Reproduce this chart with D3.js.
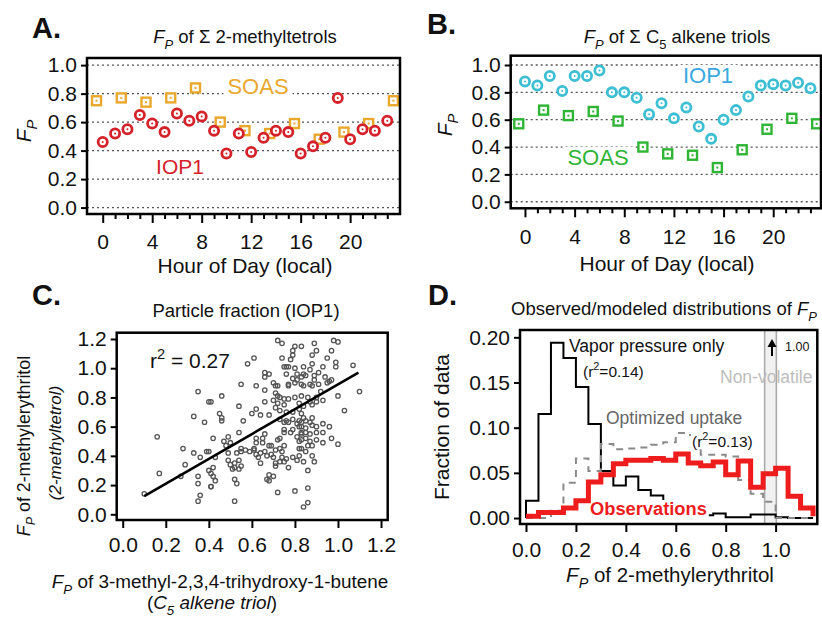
<!DOCTYPE html>
<html>
<head>
<meta charset="utf-8">
<script src="https://cdn.jsdelivr.net/npm/d3@7"></script>
<style>
    body { margin: 0; background: #fff; }
    svg { display: block; font-family: "Liberation Sans", Arial, Helvetica, sans-serif; }
    .grid line { stroke: #555; stroke-width: 1.3; stroke-dasharray: 2,3; }
    .axis line { stroke: #000; stroke-width: 2; }
    .axis text { fill: #111; font-size: 21px; }
</style>
</head>
<body>
<svg id="fig" width="822" height="617"></svg>
<script>
// ---------- data ----------
// A / B: hour of day (local) for each campaign
const iop1Hours = [0, 1, 2, 3, 4, 5, 6, 7, 8, 9, 10, 11, 12, 13, 14, 15, 16, 17, 18, 19, 20, 21, 22, 23];
const soasHours = [-0.5, 1.5, 3.5, 5.5, 7.5, 9.5, 11.5, 13.5, 15.5, 17.5, 19.5, 21.5, 23.5];

// A: Fp of sum 2-methyltetrols
const tetrolIOP1 = [0.46, 0.52, 0.55, 0.65, 0.59, 0.53, 0.66, 0.61, 0.64, 0.54, 0.38, 0.52,
                    0.39, 0.49, 0.54, 0.53, 0.38, 0.43, 0.49, 0.77, 0.48, 0.55, 0.54, 0.61];
const tetrolSOAS = [0.75, 0.77, 0.74, 0.77, 0.84, 0.60, 0.54, 0.52, 0.59, 0.48, 0.53, 0.59, 0.75];

// B: Fp of sum C5 alkene triols
const triolIOP1 = [0.88, 0.85, 0.92, 0.81, 0.92, 0.92, 0.96, 0.80, 0.80, 0.76, 0.64, 0.72,
                   0.61, 0.69, 0.55, 0.46, 0.60, 0.67, 0.77, 0.85, 0.86, 0.85, 0.87, 0.83];
const triolSOAS = [0.57, 0.67, 0.63, 0.66, 0.59, 0.40, 0.35, 0.34, 0.25, 0.38, 0.53, 0.61, 0.57];

const hourTicks = [0, 4, 8, 12, 16, 20];
const fpTicks = [0, 0.2, 0.4, 0.6, 0.8, 1.0];

// C: [Fp alkene triol, Fp 2-methylerythritol] pairs (IOP1)
const scatterIOP1 = [
    [0.10,0.14],[0.16,0.53],[0.17,0.28],[0.27,0.26],[0.28,0.45],[0.29,0.34],[0.33,0.67],[0.33,0.42],
    [0.35,0.84],[0.35,0.26],[0.35,0.21],[0.35,0.09],[0.36,0.13],[0.36,0.39],[0.38,0.63],[0.39,0.43],
    [0.40,0.77],[0.40,0.30],[0.41,0.19],
    [0.72,1.19],[0.74,1.17],[0.80,1.15],[0.79,1.12],[0.79,1.09],[0.74,1.07],[0.61,1.07],[0.58,1.03],
    [0.78,1.06],[0.75,1.01],[0.76,1.01],[0.77,1.01],[0.80,1.00],[0.66,0.97],[0.68,0.96],[0.66,0.94],
    [0.76,0.96],[0.81,0.96],[0.79,0.93],[0.81,0.92],[0.55,0.89],[0.62,0.88],[0.70,0.90],[0.71,0.88],
    [0.72,0.88],[0.77,0.89],[0.77,0.88],[0.80,0.90],[0.66,0.85],[0.46,0.81],[0.71,0.83],[0.72,0.81],
    [0.73,0.80],[0.70,0.78],[0.72,0.76],[0.75,0.79],[0.77,0.79],[0.80,0.80],[0.41,0.77],[0.54,0.74],
    [0.66,0.77],[0.75,0.75],[0.62,0.72],[0.60,0.69],[0.45,0.69],[0.46,0.66],[0.46,0.64],[0.64,0.68],
    [0.68,0.68],[0.71,0.73],[0.73,0.71],[0.76,0.70],[0.79,0.70],[0.82,0.72],[0.56,0.64],[0.79,0.65],
    [0.81,0.62],[0.82,0.64],[0.83,0.60],[0.73,0.65],[0.75,0.63],[0.76,0.64],[0.77,0.63],[0.75,0.58],
    [0.78,0.56],[0.79,0.58],[0.42,0.52],[0.47,0.50],[0.49,0.53],[0.50,0.49],[0.54,0.56],[0.62,0.52],
    [0.65,0.52],[0.66,0.55],[0.65,0.49],[0.62,0.49],[0.61,0.45],[0.68,0.47],[0.69,0.47],[0.72,0.51],
    [0.73,0.52],[0.73,0.45],[0.74,0.43],[0.75,0.47],[0.71,0.44],[0.75,0.56],[0.81,0.53],[0.82,0.50],
    [0.83,0.55],[0.40,0.43],[0.43,0.39],[0.42,0.32],[0.41,0.28],[0.42,0.26],[0.43,0.23],[0.41,0.19],
    [0.48,0.47],[0.49,0.42],[0.49,0.37],[0.50,0.34],[0.52,0.35],[0.51,0.31],[0.52,0.32],[0.54,0.37],
    [0.53,0.42],[0.55,0.43],[0.55,0.45],[0.57,0.44],[0.59,0.43],[0.61,0.44],[0.62,0.41],[0.63,0.39],
    [0.64,0.42],[0.66,0.43],[0.67,0.40],[0.69,0.41],[0.70,0.39],[0.71,0.35],[0.71,0.33],[0.73,0.36],
    [0.74,0.39],[0.75,0.36],[0.76,0.38],[0.77,0.32],[0.79,0.39],[0.81,0.37],[0.52,0.24],[0.53,0.21],
    [0.55,0.33],[0.54,0.31],[0.64,0.35],[0.68,0.27],[0.67,0.24],[0.70,0.26],[0.68,0.23],[0.72,0.15],
    [0.80,0.16],[0.52,0.09],
    [0.98,1.19],[1.00,1.18],[0.83,1.15],[0.89,1.17],[0.97,1.12],[0.88,1.09],[0.90,1.12],[0.95,1.07],
    [0.99,1.04],[0.99,1.01],[1.07,1.02],[0.84,1.01],[0.88,1.03],[0.87,0.99],[0.93,1.01],[0.91,0.97],
    [0.89,0.95],[0.94,0.94],[0.96,0.91],[0.95,0.90],[0.97,0.92],[0.83,0.94],[0.84,0.96],[0.85,0.95],
    [0.87,0.89],[0.89,0.92],[0.91,0.89],[0.83,0.89],[0.84,0.88],[0.88,0.88],[1.10,0.84],[1.00,0.81],
    [0.92,0.84],[0.90,0.80],[0.86,0.80],[0.83,0.81],[0.87,0.77],[0.90,0.77],[0.93,0.78],[0.88,0.75],
    [0.84,0.74],[0.82,0.76],[1.03,0.71],[0.83,0.69],[0.84,0.66],[0.85,0.64],[0.88,0.66],[0.87,0.63],
    [0.88,0.61],[0.83,0.63],[0.82,0.60],[0.85,0.59],[0.85,0.56],[0.83,0.56],[0.87,0.55],[0.90,0.60],
    [0.93,0.62],[0.96,0.60],[0.93,0.56],[0.90,0.56],[0.90,0.51],[0.87,0.50],[0.85,0.52],[0.83,0.51],
    [0.93,0.49],[0.97,0.52],[1.00,0.48],[0.82,0.45],[0.83,0.45],[0.86,0.47],[0.85,0.43],[0.88,0.47],
    [0.82,0.40],[0.84,0.36],[0.88,0.40],[0.89,0.36],[0.86,0.30],[0.86,0.18],[0.86,0.08],[0.84,0.05]
];
// least-squares fit line as drawn (x range and end values)
const fitX = [0.10, 1.095];
const fitY = [0.125, 0.97];
const cTicks = [0, 0.2, 0.4, 0.6, 0.8, 1.0, 1.2];

// D: histogram of Fp (bin width 0.05)
const binStarts = [0, 0.05, 0.1, 0.15, 0.2, 0.25, 0.3, 0.35, 0.4, 0.45, 0.5, 0.55,
                   0.6, 0.65, 0.7, 0.75, 0.8, 0.85, 0.9, 0.95, 1.0, 1.05, 1.1];
const binWidth = 0.05;
const vaporOnly = [0.019, 0.115, 0.194, 0.177, 0.145, 0.104, 0.052, 0.036, 0.046, 0.031, 0.025, 0.003,
                   0.003, 0.003, 0.003, 0.005, 0.001, 0.001, 0.004, 0.004, 0.001, 0.0, 0.0];
const optimizedUptake = [0.0, 0.0, 0.008, 0.039, 0.066, 0.052, 0.082, 0.076, 0.077, 0.078, 0.081, 0.084,
                         0.094, 0.092, 0.070, 0.070, 0.068, 0.042, 0.027, 0.018, 0.0, 0.0, 0.0];
const observations = [0.002, 0.006, 0.006, 0.011, 0.019, 0.040, 0.048, 0.060, 0.064, 0.064, 0.066, 0.064,
                      0.071, 0.061, 0.058, 0.062, 0.048, 0.063, 0.034, 0.049, 0.055, 0.024, 0.011];
const nonVolatileBand = [0.956, 1.003];
const dXTicks = [0, 0.2, 0.4, 0.6, 0.8, 1.0];
const dYTicks = [0, 0.05, 0.10, 0.15, 0.20];

// ---------- colours ----------
const COLORS = {
    iop1Red: '#d5212a',
    soasOrange: '#e9a82c',
    iop1Cyan: '#3cbfd3',
    iop1Blue: '#39a9df',
    soasGreen: '#2fb535',
    scatter: '#555',
    optimized: '#8a8a8a',
    obs: '#ee1c1c',
    nonVol: '#bdbdbd'
};

const svg = d3.select('#fig');

/**
 * Text made of parts: plain strings or {t, i, sub, sup}
 */
function rich(parent, x, y, parts, o = {}) {
    const size = o.size || 18;
    const t = parent.append('text')
        .attr('x', x)
        .attr('y', y)
        .attr('font-size', size)
        .attr('text-anchor', o.anchor || 'start')
        .attr('fill', o.fill || '#111');
    if (o.weight) t.attr('font-weight', o.weight);
    if (o.italic) t.attr('font-style', 'italic');
    if (o.rotate) t.attr('transform', `rotate(-90,${x},${y})`);
    let shift = 0;
    parts.forEach(p => {
        if (typeof p === 'string') p = { t: p };
        const target = p.sub ? size * 0.3 : p.sup ? -size * 0.45 : 0;
        const ts = t.append('tspan').text(p.t);
        if (target - shift !== 0) ts.attr('dy', target - shift);
        shift = target;
        if (p.i) ts.attr('font-style', 'italic');
        if (p.sub || p.sup) ts.attr('font-size', size * 0.7);
    });
    return t;
}

/**
 * Put a white box behind a text node (hides grid / lines under labels)
 */
function whiteBg(textSel, pad = 3) {
    const b = textSel.node().getBBox();
    d3.select(textSel.node().parentNode).insert('rect', () => textSel.node())
        .attr('x', b.x - pad).attr('y', b.y + 2)
        .attr('width', b.width + pad * 2).attr('height', b.height - 3)
        .attr('fill', '#fff');
    return textSel;
}

function frame(g, x, y) {
    g.append('rect')
        .attr('x', x.range()[0]).attr('y', y.range()[1])
        .attr('width', x.range()[1] - x.range()[0])
        .attr('height', y.range()[0] - y.range()[1])
        .attr('fill', 'none')
        .attr('stroke', '#000')
        .attr('stroke-width', 2.5);
}

function yAxis(g, x, y, ticks, fmt) {
    const a = g.append('g')
        .attr('class', 'axis')
        .attr('transform', `translate(${x.range()[0]},0)`)
        .call(d3.axisLeft(y).tickValues(ticks).tickSize(6).tickPadding(4).tickFormat(fmt));
    a.select('.domain').remove();
    a.attr('font-size', null).attr('font-family', null);
    return a;
}

function xAxis(g, x, y, ticks, fmt, labelY) {
    const a = g.append('g')
        .attr('class', 'axis')
        .attr('transform', `translate(0,${y.range()[0]})`)
        .call(d3.axisBottom(x).tickValues(ticks).tickSize(8).tickFormat(fmt));
    a.select('.domain').remove();
    a.attr('font-size', null).attr('font-family', null);
    a.selectAll('.tick text').attr('dy', null).attr('y', labelY);
    return a;
}

function grid(g, x, y, ticks) {
    g.append('g')
        .attr('class', 'grid')
        .selectAll('line')
        .data(ticks)
        .join('line')
        .attr('x1', x.range()[0]).attr('x2', x.range()[1])
        .attr('y1', d => y(d)).attr('y2', d => y(d));
}

// ring markers (IOP1) and square markers (SOAS)
function rings(g, x, y, hrs, vals, color) {
    const pts = hrs.map((h, i) => [h, vals[i]]);
    g.append('g').selectAll('circle.ring')
        .data(pts)
        .join('circle')
        .attr('cx', d => x(d[0])).attr('cy', d => y(d[1]))
        .attr('r', 4.6)
        .attr('fill', '#fff')
        .attr('stroke', color)
        .attr('stroke-width', 2.8);
    g.append('g').selectAll('circle.dot')
        .data(pts)
        .join('circle')
        .attr('cx', d => x(d[0])).attr('cy', d => y(d[1]))
        .attr('r', 1)
        .attr('fill', color);
}

function squares(g, x, y, hrs, vals, color) {
    const pts = hrs.map((h, i) => [h, vals[i]]);
    g.append('g').selectAll('rect.sq')
        .data(pts)
        .join('rect')
        .attr('x', d => x(d[0]) - 4.5).attr('y', d => y(d[1]) - 4.5)
        .attr('width', 9).attr('height', 9)
        .attr('fill', '#fff')
        .attr('stroke', color)
        .attr('stroke-width', 2.4);
    g.append('g').selectAll('rect.dot')
        .data(pts)
        .join('rect')
        .attr('x', d => x(d[0]) - 1).attr('y', d => y(d[1]) - 1)
        .attr('width', 2).attr('height', 2)
        .attr('fill', color);
}

function hourAxis(g, x, y, labelY) {
    const a = xAxis(g, x, y, iop1Hours, d => hourTicks.includes(d) ? d : '', labelY);
    a.selectAll('.tick line')
        .attr('y2', d => hourTicks.includes(d) ? 9 : 5)
        .attr('stroke-width', d => hourTicks.includes(d) ? 2.2 : 1.6);
}

const FP = [{ t: 'F', i: 1 }, { t: 'P', i: 1, sub: 1 }];

// ---------- Panel A ----------
{
    const g = svg.append('g');
    const x = d3.scaleLinear().domain([-1.27, 24.03]).range([87, 400]);
    const y = d3.scaleLinear().domain([-0.045, 1.05]).range([214, 58]);

    grid(g, x, y, fpTicks);
    whiteBg(rich(g, 258, 94, ['SOAS'], { size: 22, anchor: 'middle', fill: COLORS.soasOrange }), 4);
    rich(g, 180, 174, ['IOP1'], { size: 21, anchor: 'middle', fill: COLORS.iop1Red });
    squares(g, x, y, soasHours, tetrolSOAS, COLORS.soasOrange);
    rings(g, x, y, iop1Hours, tetrolIOP1, COLORS.iop1Red);
    frame(g, x, y);
    yAxis(g, x, y, fpTicks, d3.format('.1f'));
    hourAxis(g, x, y, 35);

    rich(g, 32, 38, ['A.'], { size: 29, weight: 'bold' });
    rich(g, 245, 43, [...FP, ' of \u03A3 2-methyltetrols'], { size: 18.5, anchor: 'middle' });
    rich(g, 31, 131, FP, { size: 21, anchor: 'middle', rotate: true });
    rich(g, 245, 273, ['Hour of Day (local)'], { size: 21, anchor: 'middle' });
}

// ---------- Panel B ----------
{
    const g = svg.append('g');
    const x = d3.scaleLinear().domain([-1.15, 23.85]).range([510.7, 821]);
    const y = d3.scaleLinear().domain([-0.048, 1.068]).range([208.3, 55.7]);

    grid(g, x, y, fpTicks);
    whiteBg(rich(g, 708, 83, ['IOP1'], { size: 22, anchor: 'middle', fill: COLORS.iop1Blue }), 5);
    whiteBg(rich(g, 598, 165, ['SOAS'], { size: 22, anchor: 'middle', fill: COLORS.soasGreen }), 5);
    rings(g, x, y, iop1Hours, triolIOP1, COLORS.iop1Cyan);
    squares(g, x, y, soasHours, triolSOAS, COLORS.soasGreen);
    frame(g, x, y);
    yAxis(g, x, y, fpTicks, d3.format('.1f'));
    hourAxis(g, x, y, 36);

    rich(g, 427, 34, ['B.'], { size: 29, weight: 'bold' });
    rich(g, 677, 43, [...FP, ' of \u03A3 C', { t: '5', sub: 1 }, ' alkene triols'], { size: 18.5, anchor: 'middle' });
    rich(g, 452, 125, FP, { size: 21, anchor: 'middle', rotate: true });
    rich(g, 667, 271, ['Hour of Day (local)'], { size: 21, anchor: 'middle' });
}

// ---------- Panel C ----------
{
    const g = svg.append('g');
    const x = d3.scaleLinear().domain([-0.028, 1.231]).range([116.7, 387.7]);
    const y = d3.scaleLinear().domain([-0.039, 1.243]).range([520, 332.7]);

    g.append('g').selectAll('circle')
        .data(scatterIOP1)
        .join('circle')
        .attr('cx', d => x(d[0])).attr('cy', d => y(d[1]))
        .attr('r', 2.2)
        .attr('fill', 'none')
        .attr('stroke', COLORS.scatter)
        .attr('stroke-width', 1.3);

    g.append('line')
        .attr('x1', x(fitX[0])).attr('y1', y(fitY[0]))
        .attr('x2', x(fitX[1])).attr('y2', y(fitY[1]))
        .attr('stroke', '#000')
        .attr('stroke-width', 2.6);

    frame(g, x, y);
    yAxis(g, x, y, cTicks, d3.format('.1f'));
    xAxis(g, x, y, cTicks, d3.format('.1f'), 32);

    rich(g, 150, 368, ['r', { t: '2', sup: 1 }, ' = 0.27'], { size: 21 });
    rich(g, 32, 305, ['C.'], { size: 29, weight: 'bold' });
    rich(g, 246, 317, ['Particle fraction (IOP1)'], { size: 18.5, anchor: 'middle' });
    rich(g, 30, 446, [...FP, ' of 2-methylerythritol'], { size: 17.8, anchor: 'middle', rotate: true });
    rich(g, 61, 443, ['(2-methyltetrol)'], { size: 17, anchor: 'middle', rotate: true, italic: true });
    rich(g, 220, 588, [...FP, ' of 3-methyl-2,3,4-trihydroxy-1-butene'], { size: 18.9, anchor: 'middle' });
    rich(g, 212, 609, ['(', { t: 'C', i: 1 }, { t: '5', i: 1, sub: 1 }, { t: ' alkene triol', i: 1 }, ')'],
        { size: 18.9, anchor: 'middle' });
}

// ---------- Panel D ----------
{
    const g = svg.append('g');
    const x = d3.scaleLinear().domain([-0.024, 1.167]).range([520, 817.3]);
    const y = d3.scaleLinear().domain([-0.0066, 0.2081]).range([524, 330]);
    const lastEdge = binStarts[binStarts.length - 1] + binWidth;

    // non-volatile reference band at Fp = 1
    g.append('rect')
        .attr('x', x(nonVolatileBand[0])).attr('y', y.range()[1])
        .attr('width', x(nonVolatileBand[1]) - x(nonVolatileBand[0]))
        .attr('height', y.range()[0] - y.range()[1])
        .attr('fill', '#f1f1f1');
    g.selectAll('line.nv')
        .data(nonVolatileBand)
        .join('line')
        .attr('x1', d => x(d)).attr('x2', d => x(d))
        .attr('y1', y.range()[1]).attr('y2', y.range()[0])
        .attr('stroke', '#aaa')
        .attr('stroke-width', 1.6);

    const step = d3.line()
        .x(d => x(d[0]))
        .y(d => y(d[1]))
        .curve(d3.curveStepAfter);
    const series = vals => {
        const pts = binStarts.map((b, i) => [b, vals[i]]);
        pts.push([lastEdge, vals[vals.length - 1]]);
        return pts;
    };

    g.append('path')
        .attr('d', step([[0, 0], ...series(vaporOnly)]))
        .attr('fill', 'none')
        .attr('stroke', '#000')
        .attr('stroke-width', 2);
    g.append('path')
        .attr('d', step(series(optimizedUptake)))
        .attr('fill', 'none')
        .attr('stroke', COLORS.optimized)
        .attr('stroke-width', 2)
        .attr('stroke-dasharray', '7,6');

    whiteBg(rich(g, 590, 515, ['Observations'], { size: 18.3, weight: 'bold', fill: COLORS.obs }), 2);
    whiteBg(rich(g, 692, 447, ['(r', { t: '2', sup: 1 }, '=0.13)'], { size: 15.5 }), 1);

    g.append('path')
        .attr('d', step([...series(observations), [lastEdge, 0.002]]))
        .attr('fill', 'none')
        .attr('stroke', COLORS.obs)
        .attr('stroke-width', 5)
        .attr('stroke-linejoin', 'miter');

    frame(g, x, y);
    yAxis(g, x, y, dYTicks, d3.format('.2f'));
    xAxis(g, x, y, dXTicks, d3.format('.1f'), 33);

    rich(g, 569, 352, ['Vapor pressure only'], { size: 17.5 });
    rich(g, 583, 377, ['(r', { t: '2', sup: 1 }, '=0.14)'], { size: 15.5 });
    rich(g, 606, 424, ['Optimized uptake'], { size: 17.5, fill: '#666' });
    rich(g, 720, 383, ['Non-volatile'], { size: 17.5, fill: COLORS.nonVol });

    // upward arrow: the band's peak (1.00) is off the scale
    g.append('line')
        .attr('x1', 772).attr('x2', 772)
        .attr('y1', 356).attr('y2', 343)
        .attr('stroke', '#000')
        .attr('stroke-width', 2);
    g.append('path')
        .attr('d', 'M767.5,347 L772,339 L776.5,347 Z')
        .attr('fill', '#000');
    rich(g, 785, 351, ['1.00'], { size: 12.5 });

    rich(g, 428, 305, ['D.'], { size: 29, weight: 'bold' });
    rich(g, 664, 315, ['Observed/modeled distributions of ', ...FP], { size: 18.5, anchor: 'middle' });
    rich(g, 449, 427, ['Fraction of data'], { size: 21, anchor: 'middle', rotate: true });
    rich(g, 670, 582, [...FP, ' of 2-methylerythritol'], { size: 20.5, anchor: 'middle' });
}
</script>
</body>
</html>
